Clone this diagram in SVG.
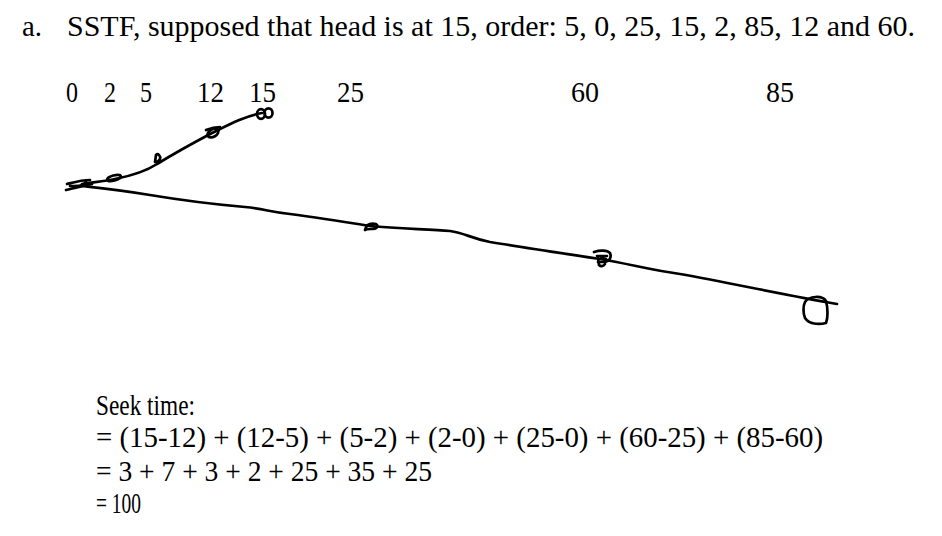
<svg xmlns="http://www.w3.org/2000/svg" width="942" height="536" viewBox="0 0 942 536">
<style>
text{font-family:"Liberation Serif","Times New Roman",serif;fill:#000;font-size:29px}
.ink{fill:none;stroke:#000;stroke-width:2.7;stroke-linecap:round;stroke-linejoin:round}
</style>
<rect width="942" height="536" fill="#fff"/>
<g id="title">
<text x="22" y="36" textLength="20" lengthAdjust="spacingAndGlyphs">a.</text>
<text x="67" y="36" textLength="848" lengthAdjust="spacingAndGlyphs">SSTF, supposed that head is at 15, order: 5, 0, 25, 15, 2, 85, 12 and 60.</text>
</g>
<g id="axis-labels">
<text x="66" y="102" textLength="12" lengthAdjust="spacingAndGlyphs">0</text>
<text x="104" y="102" textLength="12" lengthAdjust="spacingAndGlyphs">2</text>
<text x="140" y="102" textLength="12" lengthAdjust="spacingAndGlyphs">5</text>
<text x="197" y="102" textLength="27" lengthAdjust="spacingAndGlyphs">12</text>
<text x="249" y="102" textLength="27" lengthAdjust="spacingAndGlyphs">15</text>
<text x="337" y="102" textLength="27" lengthAdjust="spacingAndGlyphs">25</text>
<text x="571" y="102" textLength="28" lengthAdjust="spacingAndGlyphs">60</text>
<text x="766" y="102" textLength="28" lengthAdjust="spacingAndGlyphs">85</text>
</g>
<g id="connectors">
<path class="ink" d="M82,184 C95,182 105,181 115,179 C130,176 145,172 157,164 C175,153 195,142 212,133 C230,124 245,116 262,113"/>
<path class="ink" d="M82,186 C100,188 120,190 150,195 C180,200 210,204 245,207 C265,209 270,212 290,214 C320,218 345,222 370,226 C400,229 430,229 450,231 C465,233 470,238 490,242 C520,247 560,253 600,259 C630,264 650,270 680,274 C730,283 780,294 837,304"/>
</g>
<g id="marks">
<g id="m0"><path class="ink" d="M67,184 C75,182 82,180 90,180 M66,190 C74,188 84,186 92,184 M70,186 C78,186 84,186 86,182 L88,186"/></g>
<g id="m2"><ellipse class="ink" cx="114" cy="178" rx="7" ry="2.6" transform="rotate(-15 114 178)"/></g>
<g id="m5"><path class="ink" d="M155,162 L156,155 C158,153 161,156 160,159 C159,162 157,162 155,162"/></g>
<g id="m12"><ellipse class="ink" cx="213" cy="133" rx="6" ry="3.8" transform="rotate(-30 213 133)"/><path class="ink" d="M206,130 C211,128 215,127 220,127"/></g>
<g id="m15"><ellipse class="ink" cx="261" cy="114" rx="4" ry="4.8"/><ellipse class="ink" cx="268.5" cy="113" rx="4" ry="4.6"/></g>
<g id="m25"><path class="ink" d="M365,230 C366,225 370,223 376,224 C379,226 377,229 371,229 C368,229 366,229 365,230" fill="#000"/></g>
<g id="m60"><path class="ink" d="M594,252 C600,250 607,250 610,253 C612,258 609,262 603,262 L598,262 M597,256 L607,256 M598,258 L599,265 C601,267 604,266 605,264 M601,258 L606,259"/></g>
<g id="m85"><path class="ink" d="M805,302 C809,296 822,295 826,301 C828,308 828,318 826,323 C818,325 809,324 805,318 C803,313 803,306 805,302 Z"/></g>
</g>
<g id="calc">
<text x="96" y="415" textLength="99" lengthAdjust="spacingAndGlyphs">Seek time:</text>
<text x="96" y="447" textLength="727" lengthAdjust="spacingAndGlyphs">= (15-12) + (12-5) + (5-2) + (2-0) + (25-0) + (60-25) + (85-60)</text>
<text x="96" y="481" textLength="336" lengthAdjust="spacingAndGlyphs">= 3 + 7 + 3 + 2 + 25 + 35 + 25</text>
<text x="96" y="513" textLength="45" lengthAdjust="spacingAndGlyphs">= 100</text>
</g>
</svg>
